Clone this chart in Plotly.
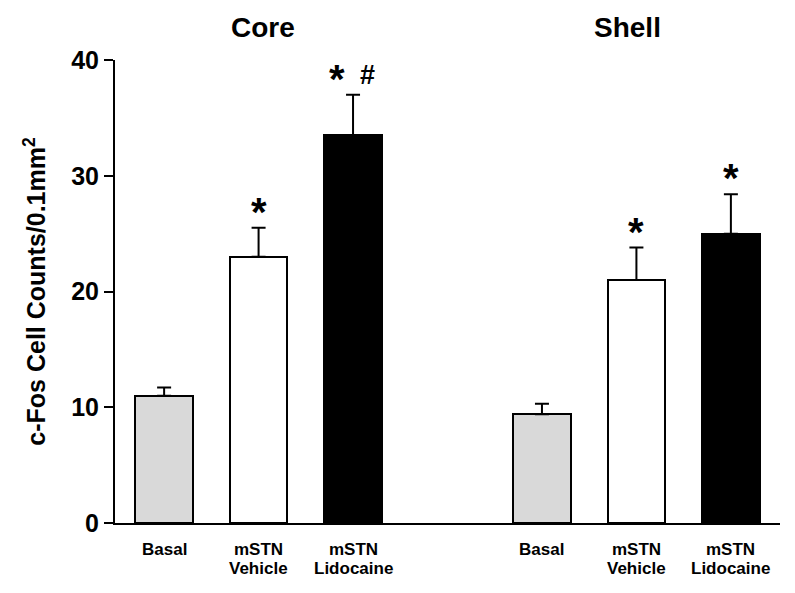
import plotly.graph_objects as go

label_line1 = ["Basal", "mSTN", "mSTN", "Basal", "mSTN", "mSTN"]
label_line2 = ["", "Vehicle", "Lidocaine", "", "Vehicle", "Lidocaine"]
positions = [0, 1, 2, 4, 5, 6]
values = [11.0, 23.0, 33.5, 9.4, 21.0, 25.0]
errors = [0.7, 2.5, 3.5, 0.9, 2.8, 3.4]
colors = ["#d9d9d9", "#ffffff", "#000000", "#d9d9d9", "#ffffff", "#000000"]
stars = ["", "*", "*", "", "*", "*"]
hashes = ["", "", "#", "", "", ""]
groups = ["Core", "Shell"]
group_centers = [1.05, 4.91]
yticks = [0, 10, 20, 30, 40]

FONT = "Arial, Liberation Sans, sans-serif"

fig = go.Figure()
fig.add_trace(go.Bar(
    x=positions, y=values, width=0.61,
    marker=dict(color=colors, line=dict(color="#000000", width=2)),
    error_y=dict(type="data", array=errors, arrayminus=[0] * 6, symmetric=False,
                 color="#000000", thickness=2, width=7),
    showlegend=False,
))

for p, v, e, s, h in zip(positions, values, errors, stars, hashes):
    if s:
        fig.add_annotation(x=p, y=v + e, text="<b>" + s + "</b>", showarrow=False,
                           yanchor="middle", yshift=16, xshift=-16 if h else 0,
                           font=dict(family=FONT, size=40, color="#000000"))
    if h:
        fig.add_annotation(x=p, y=v + e, text="<b>" + h + "</b>", showarrow=False,
                           yanchor="middle", yshift=20, xshift=14,
                           font=dict(family=FONT, size=27, color="#000000"))

for g, c in zip(groups, group_centers):
    fig.add_annotation(x=c, y=1, yref="paper", text="<b>" + g + "</b>", showarrow=False,
                       yanchor="middle", yshift=33,
                       font=dict(family=FONT, size=28, color="#000000"))

for p, l1, l2 in zip(positions, label_line1, label_line2):
    fig.add_annotation(x=p, y=0, yref="paper", text="<b>" + l1 + "</b>", showarrow=False,
                       yanchor="middle", yshift=-26,
                       font=dict(family=FONT, size=17, color="#000000"))
    if l2:
        fig.add_annotation(x=p, y=0, yref="paper", text="<b>" + l2 + "</b>", showarrow=False,
                           yanchor="middle", yshift=-45,
                           font=dict(family=FONT, size=17, color="#000000"))

fig.update_layout(
    width=795, height=593,
    margin=dict(l=107, r=23, t=52, b=78),
    plot_bgcolor="white", paper_bgcolor="white",
    font=dict(family=FONT, color="#000000"),
    bargap=0,
)
fig.update_xaxes(
    range=[-0.52, 6.52], tickvals=positions, showticklabels=False,
    showline=True, linecolor="#000000", linewidth=2,
    ticks="", showgrid=False, zeroline=False,
)
fig.update_yaxes(
    range=[0, 40], tickvals=yticks,
    ticktext=["<b>%d</b>" % t for t in yticks],
    tickfont=dict(family=FONT, size=25, color="#000000"),
    showline=True, linecolor="#000000", linewidth=2,
    ticks="outside", ticklen=9, tickwidth=2, tickcolor="#000000",
    showgrid=False, zeroline=False,
    title=dict(text="<b>c-Fos Cell Counts/0.1mm<sup>2</sup></b>",
               font=dict(family=FONT, size=25, color="#000000"), standoff=18),
)

fig.write_html("out.html")
